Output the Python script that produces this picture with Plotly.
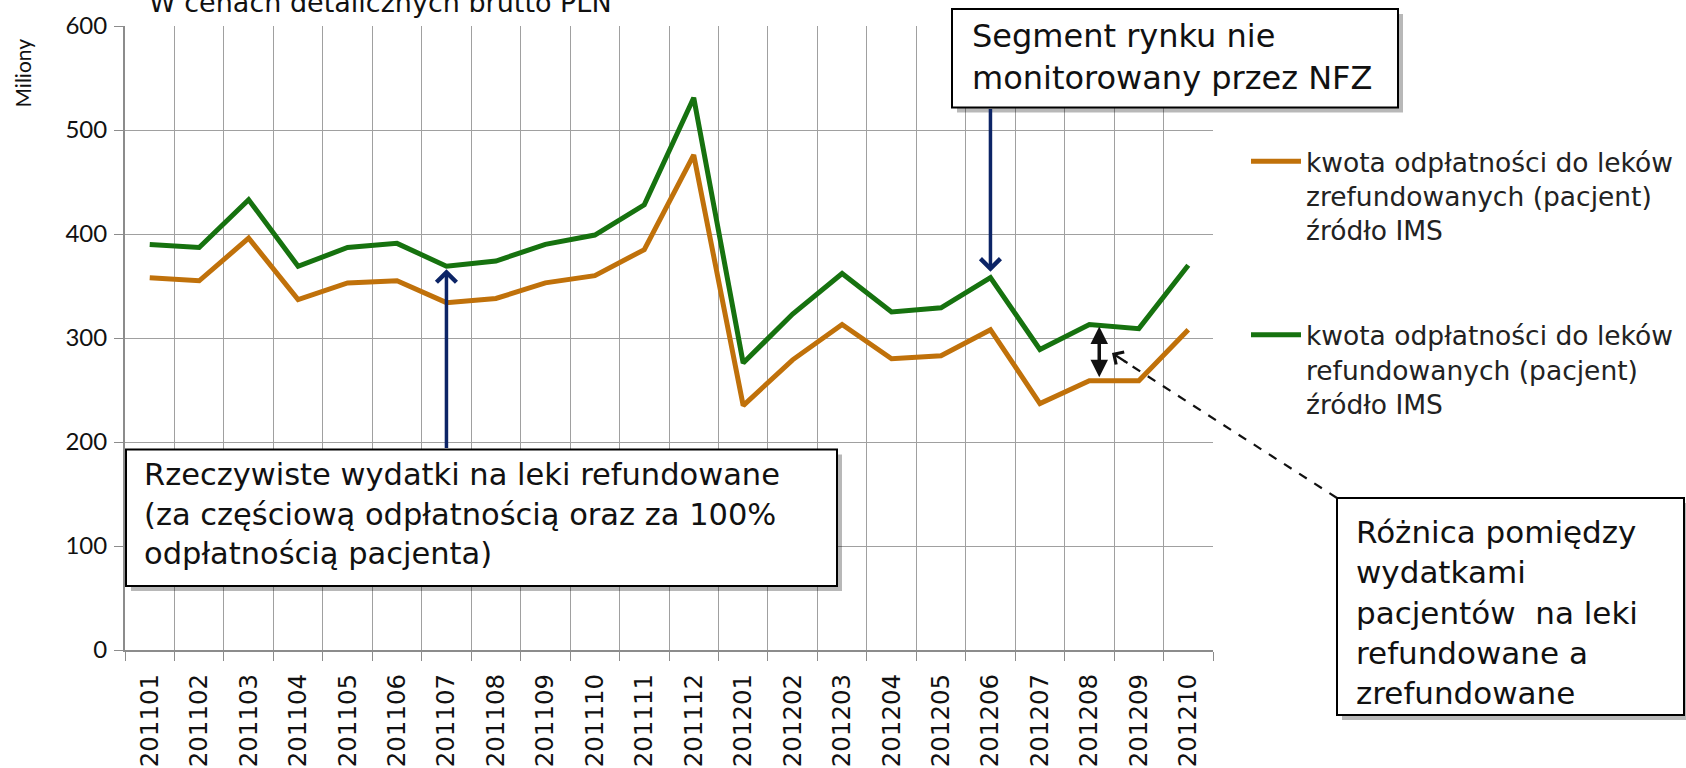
import plotly.graph_objects as go

# ---------------- data ----------------
months = ["201101", "201102", "201103", "201104", "201105", "201106",
          "201107", "201108", "201109", "201110", "201111", "201112",
          "201201", "201202", "201203", "201204", "201205", "201206",
          "201207", "201208", "201209", "201210"]
zrefundowane = [358, 355, 396, 337, 353, 355, 334, 338, 353, 360, 385, 476,
                235, 279, 313, 280, 283, 308, 237, 259, 259, 308]
refundowane = [390, 387, 433, 369, 387, 391, 369, 374, 390, 399, 428, 531,
               276, 323, 362, 325, 329, 358, 289, 313, 309, 370]
name_zref = "kwota odpłatności do leków<br>zrefundowanych (pacjent)<br>źródło IMS"
name_ref = "kwota odpłatności do leków<br>refundowanych (pacjent)<br>źródło IMS"
y_ticks = [0, 100, 200, 300, 400, 500, 600]

# ---------------- layout geometry (page pixels) ----------------
W, H = 1686, 768
PL, PR, PT, PB = 125, 1213, 26, 650   # plot area


def xp(px):
    return (px - PL) / (PR - PL)


def yp(py):
    return (PB - py) / (PB - PT)


def xc(px):
    return px / W


def yc(py):
    return 1 - py / H


def ypx(v):
    return PB - v * (PB - PT) / 600.0


ORANGE = "#C0710A"
GREEN = "#16720F"
NAVY = "#0C2466"
NARROW = "Liberation Sans Narrow, Lato"

fig = go.Figure()
fig.add_trace(go.Scatter(x=months, y=zrefundowane, mode="lines", name=name_zref,
                         line=dict(color=ORANGE, width=5), legend="legend"))
fig.add_trace(go.Scatter(x=months, y=refundowane, mode="lines", name=name_ref,
                         line=dict(color=GREEN, width=5), legend="legend2"))

shapes = []
annotations = []


def box(x0, y0, x1, y1):
    shapes.append(dict(type="rect", xref="paper", yref="paper",
                       x0=xp(x0 + 5), x1=xp(x1 + 5), y0=yp(y0 + 5), y1=yp(y1 + 5),
                       line=dict(width=0), fillcolor="rgba(0,0,0,0.28)", layer="above"))
    shapes.append(dict(type="rect", xref="paper", yref="paper",
                       x0=xp(x0), x1=xp(x1), y0=yp(y0), y1=yp(y1),
                       line=dict(color="#000000", width=2), fillcolor="#FFFFFF", layer="above"))


def box_text(txt, x, ytop, size):
    annotations.append(dict(text=txt, xref="paper", yref="paper", x=xp(x), y=yp(ytop),
                            xanchor="left", yanchor="top", align="left", showarrow=False,
                            font=dict(family="DejaVu Sans", size=size, color="#111111")))


# boxes
box(952, 9, 1398, 107.5)
box_text("Segment rynku nie<br>monitorowany przez NFZ", 970, 15, 32)
box(126, 449.5, 837, 586)
box_text("Rzeczywiste wydatki na leki refundowane<br>(za częściową odpłatnością oraz za 100%<br>odpłatnością pacjenta)", 142, 455, 30.5)
box(1337, 498, 1684, 715)
box_text("Różnica pomiędzy<br>wydatkami<br>pacjentów  na leki<br>refundowane a<br>zrefundowane", 1354, 512, 31)

# navy arrows from the boxes to the green line
i206 = months.index("201206")
annotations.append(dict(x=i206, y=refundowane[i206], xref="x", yref="y",
                        ax=0, ay=107.5 - ypx(refundowane[i206]),
                        text="", showarrow=True, arrowhead=4, arrowsize=1.1,
                        arrowwidth=3.5, arrowcolor=NAVY, standoff=6))
i107 = months.index("201107")
annotations.append(dict(x=i107, y=refundowane[i107], xref="x", yref="y",
                        ax=0, ay=449.5 - ypx(refundowane[i107]),
                        text="", showarrow=True, arrowhead=4, arrowsize=1.1,
                        arrowwidth=3.5, arrowcolor=NAVY, standoff=3))

# black double arrow showing the gap
i208 = months.index("201208")
annotations.append(dict(x=i208 + 0.2, y=refundowane[i208], xref="x", yref="y",
                        ax=i208 + 0.2, ay=zrefundowane[i208], axref="x", ayref="y",
                        text="", showarrow=True, arrowhead=2, startarrowhead=2,
                        arrowside="end+start", arrowsize=1, startarrowsize=1,
                        arrowwidth=3.5, arrowcolor="#111111", standoff=2, startstandoff=2))

# dashed pointer from the right box
tipx, tipy = 1112, 353
shapes.append(dict(type="line", xref="paper", yref="paper",
                   x0=xp(1337), y0=yp(498), x1=xp(tipx + 12), y1=yp(tipy + 8),
                   line=dict(color="#111111", width=2.2, dash="dash"), layer="above"))
annotations.append(dict(x=xp(tipx), y=yp(tipy), xref="paper", yref="paper",
                        ax=17, ay=11, text="", showarrow=True, arrowhead=4,
                        arrowsize=1.3, arrowwidth=2.2, arrowcolor="#111111"))

# cut-off title and y axis title
annotations.append(dict(text="W cenach detalicznych brutto PLN", xref="paper", yref="paper",
                        x=xp(147), y=yp(20), xanchor="left", yanchor="bottom",
                        showarrow=False, font=dict(family="DejaVu Sans", size=27, color="#111111")))
annotations.append(dict(text="Miliony", xref="paper", yref="paper", x=xp(22.5), y=yp(73),
                        xanchor="center", yanchor="middle", textangle=-90, showarrow=False,
                        font=dict(family=NARROW, size=21, color="#111111")))

LEGFONT = dict(family="DejaVu Sans", size=26.5, color="#222222")
fig.update_layout(
    width=W, height=H,
    margin=dict(l=PL, r=W - PR, t=PT, b=H - PB, pad=0, autoexpand=False),
    paper_bgcolor="#FFFFFF", plot_bgcolor="#FFFFFF",
    shapes=shapes, annotations=annotations,
    showlegend=True,
    legend=dict(xref="container", yref="container", x=xc(1246), y=yc(137.5),
                xanchor="left", yanchor="top", valign="top", itemwidth=50,
                font=LEGFONT, bgcolor="rgba(0,0,0,0)"),
    legend2=dict(xref="container", yref="container", x=xc(1246), y=yc(311),
                 xanchor="left", yanchor="top", valign="top", itemwidth=50,
                 font=LEGFONT, bgcolor="rgba(0,0,0,0)"),
    xaxis=dict(type="category", categoryorder="array", categoryarray=months,
               range=[-0.5, len(months) - 0.5], tickson="boundaries", automargin=False,
               showgrid=True, gridcolor="#A0A0A0", gridwidth=1.3,
               showline=True, linecolor="#8C8C8C", linewidth=2,
               ticks="outside", ticklen=9, tickcolor="#8C8C8C", tickwidth=1.3,
               ticklabelstandoff=12,
               tickangle=-90, tickfont=dict(family="DejaVu Sans", size=24.5, color="#111111"),
               fixedrange=True),
    yaxis=dict(range=[0, 600], tickvals=y_ticks, showgrid=True, gridcolor="#A0A0A0",
               gridwidth=1.3, zeroline=False, showline=True, linecolor="#8C8C8C",
               linewidth=2, ticks="outside", ticklen=9, tickcolor="#8C8C8C",
               tickwidth=1.3, ticklabelstandoff=2, automargin=False,
               tickfont=dict(family=NARROW, size=24, color="#111111"),
               fixedrange=True),
)

# remove the default 8px body margin so the figure fills the 1686x768 window
fig.write_html("out.html", config={"displayModeBar": False},
               post_script="document.body.style.margin='0';")
